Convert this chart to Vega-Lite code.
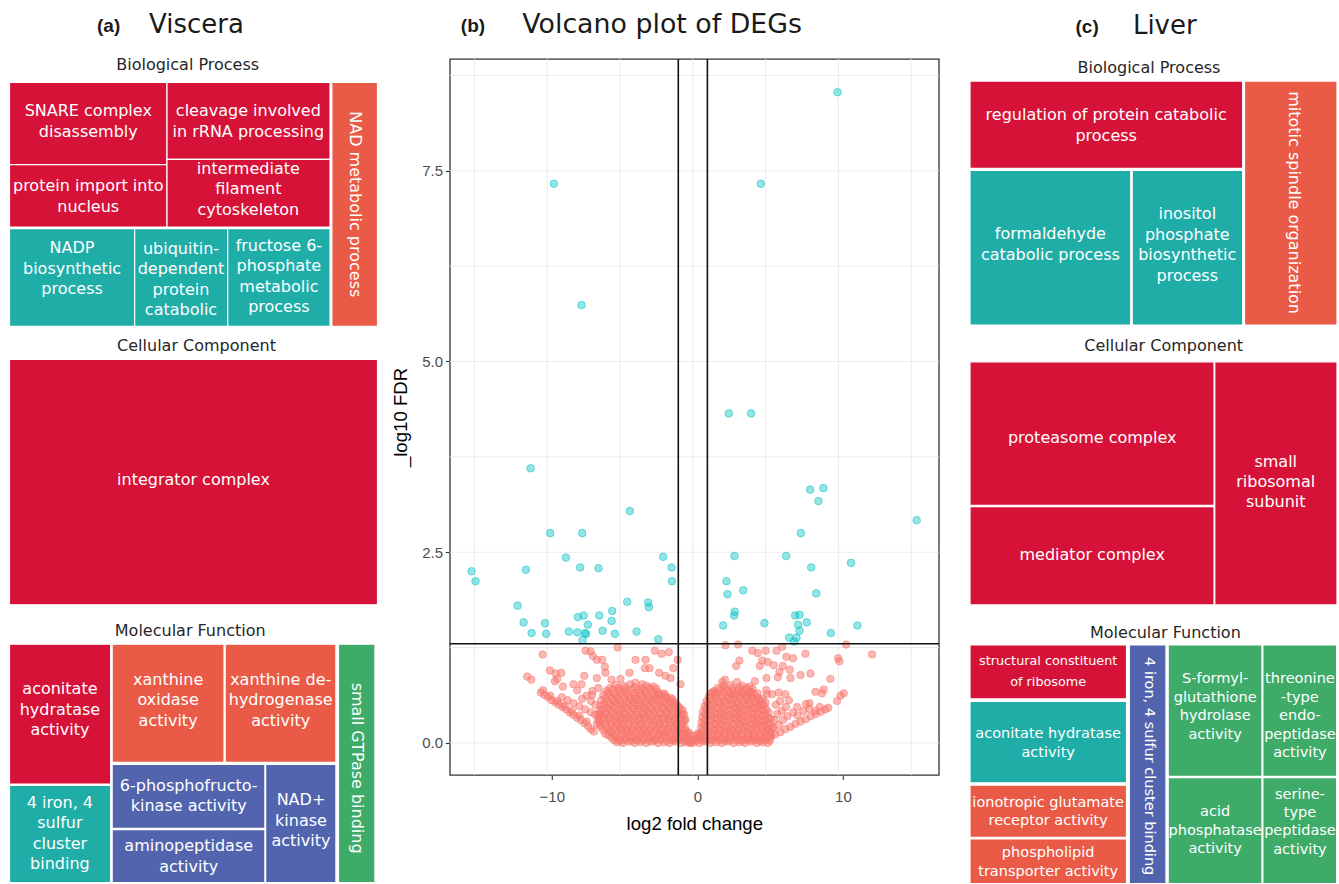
{
"$schema": "https://vega.github.io/schema/vega-lite/v6.json",
"background": "white",
"padding": {"left": 8.5, "top": 11, "right": 0, "bottom": 0},
"spacing": 11.3,
"resolve": {"scale": {"x": "independent", "y": "independent", "color": "independent"}},
"datasets": {
"blue": [
{"x":-9.55,"y":7.33},{"x":-7.65,"y":5.74},{"x":-11.15,"y":3.6},{"x":-4.33,"y":3.04},{"x":-9.8,"y":2.75},{"x":-7.6,"y":2.75},{"x":-8.72,"y":2.43},{"x":-2.04,"y":2.44},{"x":-15.2,"y":2.25},{"x":-11.47,"y":2.27},{"x":-7.74,"y":2.3},{"x":-6.48,"y":2.29},{"x":-1.46,"y":2.3},{"x":-14.93,"y":2.12},{"x":-1.44,"y":2.12},{"x":-12.04,"y":1.8},{"x":-4.51,"y":1.85},{"x":-3.07,"y":1.84},{"x":-3.02,"y":1.78},{"x":-5.54,"y":1.73},{"x":-6.43,"y":1.67},{"x":-7.5,"y":1.67},{"x":-7.9,"y":1.65},{"x":-5.58,"y":1.6},{"x":-11.63,"y":1.58},{"x":-10.16,"y":1.57},{"x":-7.21,"y":1.55},{"x":-11.08,"y":1.44},{"x":-10.08,"y":1.43},{"x":-8.52,"y":1.46},{"x":-7.94,"y":1.45},{"x":-7.42,"y":1.44},{"x":-7.33,"y":1.43},{"x":-6.2,"y":1.47},{"x":-5.36,"y":1.43},{"x":-3.87,"y":1.46},{"x":-7.58,"y":1.35},{"x":-2.38,"y":1.36},
{"x":9.94,"y":8.53},{"x":4.67,"y":7.33},{"x":2.47,"y":4.32},{"x":4.0,"y":4.32},{"x":8.06,"y":3.32},{"x":8.97,"y":3.34},{"x":8.63,"y":3.17},{"x":15.38,"y":2.92},{"x":7.42,"y":2.75},{"x":2.86,"y":2.45},{"x":6.41,"y":2.45},{"x":10.87,"y":2.36},{"x":8.13,"y":2.3},{"x":2.31,"y":2.12},{"x":2.38,"y":1.95},{"x":3.46,"y":2.0},{"x":8.48,"y":1.96},{"x":2.88,"y":1.72},{"x":2.84,"y":1.67},{"x":7.03,"y":1.67},{"x":7.33,"y":1.68},{"x":7.23,"y":1.55},{"x":7.83,"y":1.58},{"x":2.08,"y":1.54},{"x":4.92,"y":1.57},{"x":11.31,"y":1.54},{"x":7.33,"y":1.47},{"x":9.48,"y":1.44},{"x":6.62,"y":1.38},{"x":7.12,"y":1.38},{"x":6.96,"y":1.33}
],
"red": [
{"x":-5.2,"y":0.01},{"x":-4.8,"y":0.0},{"x":-4.4,"y":0.02},{"x":-4.0,"y":0.0},{"x":-3.6,"y":0.01},{"x":-3.2,"y":0.0},{"x":-2.8,"y":0.02},{"x":-2.4,"y":0.0},{"x":-2.0,"y":0.01},{"x":-1.6,"y":0.0},{"x":-1.2,"y":0.02},{"x":-0.8,"y":0.0},{"x":-0.45,"y":0.01},{"x":-0.2,"y":0.0},
{"x":-5.6,"y":0.07},{"x":-5.15,"y":0.05},{"x":-4.7,"y":0.06},{"x":-4.3,"y":0.07},{"x":-3.9,"y":0.05},{"x":-3.45,"y":0.06},{"x":-3.0,"y":0.07},{"x":-2.6,"y":0.05},{"x":-2.2,"y":0.06},{"x":-1.8,"y":0.07},{"x":-1.4,"y":0.05},{"x":-1.0,"y":0.06},{"x":-0.6,"y":0.07},{"x":-0.35,"y":0.05},
{"x":-6.0,"y":0.12},{"x":-5.6,"y":0.14},{"x":-5.2,"y":0.13},{"x":-4.8,"y":0.12},{"x":-4.35,"y":0.14},{"x":-3.9,"y":0.13},{"x":-3.5,"y":0.12},{"x":-3.1,"y":0.14},{"x":-2.7,"y":0.13},{"x":-2.3,"y":0.12},{"x":-1.9,"y":0.14},{"x":-1.5,"y":0.13},{"x":-1.1,"y":0.12},{"x":-0.7,"y":0.14},{"x":-0.4,"y":0.13},
{"x":-6.3,"y":0.21},{"x":-5.85,"y":0.19},{"x":-5.4,"y":0.2},{"x":-5.0,"y":0.21},{"x":-4.6,"y":0.19},{"x":-4.2,"y":0.2},{"x":-3.8,"y":0.21},{"x":-3.35,"y":0.19},{"x":-2.9,"y":0.2},{"x":-2.5,"y":0.21},{"x":-2.1,"y":0.19},{"x":-1.7,"y":0.2},{"x":-1.3,"y":0.21},{"x":-0.9,"y":0.19},{"x":-0.55,"y":0.2},
{"x":-6.45,"y":0.28},{"x":-6.0,"y":0.26},{"x":-5.6,"y":0.27},{"x":-5.2,"y":0.28},{"x":-4.8,"y":0.26},{"x":-4.4,"y":0.27},{"x":-3.95,"y":0.28},{"x":-3.55,"y":0.26},{"x":-3.1,"y":0.27},{"x":-2.7,"y":0.28},{"x":-2.3,"y":0.26},{"x":-1.9,"y":0.27},{"x":-1.5,"y":0.28},{"x":-1.1,"y":0.26},{"x":-0.7,"y":0.27},{"x":-0.5,"y":0.3},
{"x":-6.5,"y":0.35},{"x":-6.1,"y":0.33},{"x":-5.7,"y":0.34},{"x":-5.25,"y":0.35},{"x":-4.85,"y":0.33},{"x":-4.45,"y":0.34},{"x":-4.0,"y":0.35},{"x":-3.6,"y":0.33},{"x":-3.2,"y":0.34},{"x":-2.8,"y":0.35},{"x":-2.4,"y":0.33},{"x":-2.0,"y":0.34},{"x":-1.6,"y":0.35},{"x":-1.2,"y":0.33},{"x":-0.8,"y":0.34},{"x":-0.6,"y":0.37},
{"x":-6.4,"y":0.42},{"x":-6.0,"y":0.4},{"x":-5.55,"y":0.41},{"x":-5.1,"y":0.42},{"x":-4.7,"y":0.4},{"x":-4.3,"y":0.41},{"x":-3.85,"y":0.42},{"x":-3.45,"y":0.4},{"x":-3.05,"y":0.41},{"x":-2.65,"y":0.42},{"x":-2.2,"y":0.4},{"x":-1.8,"y":0.41},{"x":-1.4,"y":0.42},{"x":-1.0,"y":0.4},{"x":-0.7,"y":0.43},
{"x":-6.35,"y":0.49},{"x":-5.9,"y":0.47},{"x":-5.5,"y":0.48},{"x":-5.05,"y":0.49},{"x":-4.65,"y":0.47},{"x":-4.2,"y":0.48},{"x":-3.8,"y":0.49},{"x":-3.35,"y":0.47},{"x":-2.95,"y":0.48},{"x":-2.5,"y":0.49},{"x":-2.1,"y":0.47},{"x":-1.7,"y":0.48},{"x":-1.3,"y":0.49},{"x":-0.95,"y":0.47},
{"x":-6.3,"y":0.56},{"x":-5.85,"y":0.54},{"x":-5.4,"y":0.55},{"x":-5.0,"y":0.56},{"x":-4.55,"y":0.54},{"x":-4.1,"y":0.55},{"x":-3.7,"y":0.56},{"x":-3.3,"y":0.54},{"x":-2.85,"y":0.55},{"x":-2.45,"y":0.56},{"x":-2.05,"y":0.54},{"x":-1.6,"y":0.55},{"x":-1.25,"y":0.53},
{"x":-6.15,"y":0.63},{"x":-5.7,"y":0.61},{"x":-5.3,"y":0.62},{"x":-4.85,"y":0.63},{"x":-4.4,"y":0.61},{"x":-4.0,"y":0.62},{"x":-3.55,"y":0.63},{"x":-3.1,"y":0.61},{"x":-2.7,"y":0.62},{"x":-2.3,"y":0.63},{"x":-1.85,"y":0.6},{"x":-1.5,"y":0.59},
{"x":-5.95,"y":0.68},{"x":-5.5,"y":0.7},{"x":-5.05,"y":0.69},{"x":-4.6,"y":0.68},{"x":-4.2,"y":0.7},{"x":-3.75,"y":0.69},{"x":-3.3,"y":0.68},{"x":-2.9,"y":0.7},{"x":-2.45,"y":0.67},{"x":-2.0,"y":0.65},
{"x":-5.3,"y":0.76},{"x":-4.75,"y":0.75},{"x":-4.3,"y":0.77},{"x":-3.2,"y":0.75},{"x":-2.7,"y":0.74},
{"x":-5.4,"y":0.035},{"x":-5.0,"y":0.03},{"x":-4.6,"y":0.04},{"x":-4.2,"y":0.03},{"x":-3.8,"y":0.035},{"x":-3.4,"y":0.04},{"x":-3.0,"y":0.03},{"x":-2.6,"y":0.035},{"x":-2.2,"y":0.04},{"x":-1.8,"y":0.03},{"x":-1.4,"y":0.035},{"x":-1.0,"y":0.04},{"x":-0.6,"y":0.03},{"x":-0.3,"y":0.02},
{"x":-5.8,"y":0.1},{"x":-5.4,"y":0.09},{"x":-4.95,"y":0.1},{"x":-4.5,"y":0.11},{"x":-4.1,"y":0.09},{"x":-3.7,"y":0.1},{"x":-3.25,"y":0.11},{"x":-2.85,"y":0.09},{"x":-2.4,"y":0.1},{"x":-2.0,"y":0.11},{"x":-1.6,"y":0.09},{"x":-1.2,"y":0.1},{"x":-0.8,"y":0.11},{"x":-0.5,"y":0.09},
{"x":-6.15,"y":0.165},{"x":-5.75,"y":0.16},{"x":-5.3,"y":0.17},{"x":-4.9,"y":0.165},{"x":-4.5,"y":0.16},{"x":-4.1,"y":0.17},{"x":-3.7,"y":0.165},{"x":-3.3,"y":0.16},{"x":-2.9,"y":0.17},{"x":-2.5,"y":0.165},{"x":-2.1,"y":0.16},{"x":-1.7,"y":0.17},{"x":-1.3,"y":0.165},{"x":-0.9,"y":0.16},{"x":-0.55,"y":0.17},
{"x":-6.4,"y":0.235},{"x":-6.0,"y":0.23},{"x":-5.6,"y":0.24},{"x":-5.2,"y":0.235},{"x":-4.8,"y":0.23},{"x":-4.4,"y":0.24},{"x":-4.0,"y":0.235},{"x":-3.6,"y":0.23},{"x":-3.2,"y":0.24},{"x":-2.75,"y":0.235},{"x":-2.35,"y":0.23},{"x":-1.95,"y":0.24},{"x":-1.55,"y":0.235},{"x":-1.15,"y":0.23},{"x":-0.75,"y":0.24},
{"x":-6.5,"y":0.305},{"x":-6.2,"y":0.3},{"x":-5.8,"y":0.31},{"x":-5.4,"y":0.305},{"x":-5.0,"y":0.3},{"x":-4.6,"y":0.31},{"x":-4.2,"y":0.305},{"x":-3.75,"y":0.3},{"x":-3.35,"y":0.31},{"x":-2.9,"y":0.305},{"x":-2.5,"y":0.3},{"x":-2.1,"y":0.31},{"x":-1.7,"y":0.305},{"x":-1.3,"y":0.3},{"x":-0.9,"y":0.31},{"x":-0.6,"y":0.3},
{"x":-6.45,"y":0.38},{"x":-6.3,"y":0.37},{"x":-5.9,"y":0.375},{"x":-5.45,"y":0.38},{"x":-5.05,"y":0.37},{"x":-4.65,"y":0.375},{"x":-4.2,"y":0.38},{"x":-3.8,"y":0.37},{"x":-3.4,"y":0.375},{"x":-3.0,"y":0.38},{"x":-2.6,"y":0.37},{"x":-2.2,"y":0.375},{"x":-1.8,"y":0.38},{"x":-1.4,"y":0.37},{"x":-1.0,"y":0.375},{"x":-0.7,"y":0.38},
{"x":-6.2,"y":0.445},{"x":-5.75,"y":0.44},{"x":-5.35,"y":0.45},{"x":-4.9,"y":0.445},{"x":-4.5,"y":0.44},{"x":-4.05,"y":0.45},{"x":-3.65,"y":0.445},{"x":-3.25,"y":0.44},{"x":-2.85,"y":0.45},{"x":-2.45,"y":0.445},{"x":-2.0,"y":0.44},{"x":-1.6,"y":0.45},{"x":-1.2,"y":0.445},{"x":-0.85,"y":0.44},
{"x":-6.1,"y":0.515},{"x":-5.7,"y":0.51},{"x":-5.25,"y":0.52},{"x":-4.85,"y":0.515},{"x":-4.4,"y":0.51},{"x":-4.0,"y":0.52},{"x":-3.6,"y":0.515},{"x":-3.15,"y":0.51},{"x":-2.75,"y":0.52},{"x":-2.3,"y":0.515},{"x":-1.9,"y":0.51},{"x":-1.5,"y":0.52},{"x":-1.1,"y":0.5},
{"x":-6.0,"y":0.585},{"x":-5.55,"y":0.58},{"x":-5.15,"y":0.59},{"x":-4.7,"y":0.585},{"x":-4.3,"y":0.58},{"x":-3.9,"y":0.59},{"x":-3.45,"y":0.585},{"x":-3.05,"y":0.58},{"x":-2.6,"y":0.59},{"x":-2.2,"y":0.585},{"x":-1.8,"y":0.58},{"x":-1.4,"y":0.57},
{"x":-5.8,"y":0.655},{"x":-5.4,"y":0.65},{"x":-4.95,"y":0.66},{"x":-4.5,"y":0.655},{"x":-4.05,"y":0.65},{"x":-3.6,"y":0.66},{"x":-3.2,"y":0.655},{"x":-2.75,"y":0.65},{"x":-2.3,"y":0.645},{"x":-1.9,"y":0.63},
{"x":-5.7,"y":0.72},{"x":-5.1,"y":0.725},{"x":-4.6,"y":0.72},{"x":-4.0,"y":0.73},{"x":-3.5,"y":0.72},{"x":-3.0,"y":0.725},{"x":-2.5,"y":0.71},
{"x":-0.1,"y":0.0},{"x":0.1,"y":0.01},{"x":0.25,"y":0.04},{"x":-0.25,"y":0.05},{"x":0.0,"y":0.04},{"x":0.15,"y":0.09},{"x":-0.15,"y":0.1},{"x":0.32,"y":0.12},{"x":-0.3,"y":0.14},
{"x":0.45,"y":0.0},{"x":0.8,"y":0.02},{"x":1.2,"y":0.0},{"x":1.6,"y":0.01},{"x":2.0,"y":0.0},{"x":2.4,"y":0.02},{"x":2.8,"y":0.0},{"x":3.2,"y":0.01},{"x":3.6,"y":0.0},{"x":4.0,"y":0.02},{"x":4.4,"y":0.0},{"x":4.8,"y":0.01},{"x":5.15,"y":0.0},
{"x":0.4,"y":0.07},{"x":0.8,"y":0.06},{"x":1.2,"y":0.05},{"x":1.6,"y":0.07},{"x":2.0,"y":0.06},{"x":2.4,"y":0.05},{"x":2.8,"y":0.07},{"x":3.2,"y":0.06},{"x":3.6,"y":0.05},{"x":4.0,"y":0.07},{"x":4.4,"y":0.06},{"x":4.8,"y":0.05},{"x":5.2,"y":0.07},
{"x":0.5,"y":0.13},{"x":0.9,"y":0.12},{"x":1.3,"y":0.14},{"x":1.75,"y":0.13},{"x":2.15,"y":0.12},{"x":2.55,"y":0.14},{"x":2.95,"y":0.13},{"x":3.35,"y":0.12},{"x":3.8,"y":0.14},{"x":4.2,"y":0.13},{"x":4.6,"y":0.12},{"x":5.0,"y":0.14},{"x":5.35,"y":0.13},
{"x":0.55,"y":0.2},{"x":0.95,"y":0.21},{"x":1.4,"y":0.19},{"x":1.8,"y":0.2},{"x":2.2,"y":0.21},{"x":2.6,"y":0.19},{"x":3.05,"y":0.2},{"x":3.45,"y":0.21},{"x":3.85,"y":0.19},{"x":4.3,"y":0.2},{"x":4.7,"y":0.21},{"x":5.1,"y":0.19},{"x":5.5,"y":0.2},
{"x":0.6,"y":0.27},{"x":1.0,"y":0.28},{"x":1.45,"y":0.26},{"x":1.85,"y":0.27},{"x":2.25,"y":0.28},{"x":2.7,"y":0.26},{"x":3.1,"y":0.27},{"x":3.5,"y":0.28},{"x":3.95,"y":0.26},{"x":4.35,"y":0.27},{"x":4.75,"y":0.28},{"x":5.15,"y":0.26},
{"x":0.65,"y":0.34},{"x":1.05,"y":0.35},{"x":1.5,"y":0.33},{"x":1.9,"y":0.34},{"x":2.3,"y":0.35},{"x":2.75,"y":0.33},{"x":3.15,"y":0.34},{"x":3.55,"y":0.35},{"x":4.0,"y":0.33},{"x":4.4,"y":0.34},{"x":4.8,"y":0.35},{"x":5.2,"y":0.33},
{"x":0.7,"y":0.41},{"x":1.1,"y":0.42},{"x":1.5,"y":0.4},{"x":1.95,"y":0.41},{"x":2.35,"y":0.42},{"x":2.8,"y":0.4},{"x":3.2,"y":0.41},{"x":3.6,"y":0.42},{"x":4.05,"y":0.4},{"x":4.45,"y":0.41},{"x":4.85,"y":0.42},{"x":5.2,"y":0.4},
{"x":0.8,"y":0.48},{"x":1.2,"y":0.49},{"x":1.6,"y":0.47},{"x":2.0,"y":0.48},{"x":2.45,"y":0.49},{"x":2.85,"y":0.47},{"x":3.25,"y":0.48},{"x":3.7,"y":0.49},{"x":4.1,"y":0.47},{"x":4.5,"y":0.48},{"x":4.9,"y":0.49},
{"x":0.95,"y":0.55},{"x":1.35,"y":0.56},{"x":1.75,"y":0.54},{"x":2.15,"y":0.55},{"x":2.6,"y":0.56},{"x":3.0,"y":0.54},{"x":3.4,"y":0.55},{"x":3.85,"y":0.56},{"x":4.25,"y":0.54},{"x":4.65,"y":0.55},{"x":5.0,"y":0.53},
{"x":1.1,"y":0.61},{"x":1.5,"y":0.63},{"x":1.95,"y":0.62},{"x":2.35,"y":0.61},{"x":2.75,"y":0.63},{"x":3.2,"y":0.62},{"x":3.6,"y":0.61},{"x":4.0,"y":0.63},{"x":4.4,"y":0.6},{"x":4.8,"y":0.58},
{"x":1.45,"y":0.68},{"x":1.9,"y":0.7},{"x":2.3,"y":0.69},{"x":2.75,"y":0.68},{"x":3.15,"y":0.7},{"x":3.6,"y":0.69},{"x":4.0,"y":0.67},{"x":4.45,"y":0.65},
{"x":2.1,"y":0.75},{"x":2.6,"y":0.76},{"x":3.4,"y":0.75},{"x":3.9,"y":0.74},
{"x":0.6,"y":0.035},{"x":1.0,"y":0.03},{"x":1.4,"y":0.04},{"x":1.8,"y":0.035},{"x":2.2,"y":0.03},{"x":2.6,"y":0.04},{"x":3.0,"y":0.035},{"x":3.4,"y":0.03},{"x":3.8,"y":0.04},{"x":4.2,"y":0.035},{"x":4.6,"y":0.03},{"x":5.0,"y":0.04},{"x":5.3,"y":0.03},
{"x":0.45,"y":0.1},{"x":0.6,"y":0.11},{"x":1.0,"y":0.1},{"x":1.4,"y":0.09},{"x":1.8,"y":0.1},{"x":2.2,"y":0.11},{"x":2.6,"y":0.09},{"x":3.0,"y":0.1},{"x":3.4,"y":0.11},{"x":3.8,"y":0.09},{"x":4.2,"y":0.1},{"x":4.6,"y":0.11},{"x":5.0,"y":0.09},{"x":5.4,"y":0.1},
{"x":0.7,"y":0.165},{"x":1.1,"y":0.16},{"x":1.5,"y":0.17},{"x":1.95,"y":0.165},{"x":2.35,"y":0.16},{"x":2.75,"y":0.17},{"x":3.15,"y":0.165},{"x":3.55,"y":0.16},{"x":4.0,"y":0.17},{"x":4.4,"y":0.165},{"x":4.8,"y":0.16},{"x":5.2,"y":0.17},
{"x":0.75,"y":0.235},{"x":1.15,"y":0.23},{"x":1.6,"y":0.24},{"x":2.0,"y":0.235},{"x":2.4,"y":0.23},{"x":2.85,"y":0.24},{"x":3.25,"y":0.235},{"x":3.65,"y":0.23},{"x":4.1,"y":0.24},{"x":4.5,"y":0.235},{"x":4.9,"y":0.23},{"x":5.3,"y":0.24},
{"x":0.8,"y":0.305},{"x":1.25,"y":0.3},{"x":1.65,"y":0.31},{"x":2.05,"y":0.305},{"x":2.5,"y":0.3},{"x":2.9,"y":0.31},{"x":3.3,"y":0.305},{"x":3.75,"y":0.3},{"x":4.15,"y":0.31},{"x":4.55,"y":0.305},{"x":4.95,"y":0.3},{"x":5.35,"y":0.31},
{"x":0.85,"y":0.375},{"x":1.3,"y":0.37},{"x":1.7,"y":0.38},{"x":2.1,"y":0.375},{"x":2.55,"y":0.37},{"x":2.95,"y":0.38},{"x":3.35,"y":0.375},{"x":3.8,"y":0.37},{"x":4.2,"y":0.38},{"x":4.6,"y":0.375},{"x":5.0,"y":0.37},
{"x":0.9,"y":0.445},{"x":1.3,"y":0.44},{"x":1.75,"y":0.45},{"x":2.15,"y":0.445},{"x":2.6,"y":0.44},{"x":3.0,"y":0.45},{"x":3.4,"y":0.445},{"x":3.85,"y":0.44},{"x":4.25,"y":0.45},{"x":4.7,"y":0.445},{"x":5.05,"y":0.44},
{"x":1.0,"y":0.515},{"x":1.4,"y":0.51},{"x":1.8,"y":0.52},{"x":2.25,"y":0.515},{"x":2.65,"y":0.51},{"x":3.05,"y":0.52},{"x":3.5,"y":0.515},{"x":3.9,"y":0.51},{"x":4.3,"y":0.52},{"x":4.75,"y":0.505},
{"x":1.2,"y":0.585},{"x":1.6,"y":0.58},{"x":2.0,"y":0.59},{"x":2.45,"y":0.585},{"x":2.85,"y":0.58},{"x":3.25,"y":0.59},{"x":3.7,"y":0.585},{"x":4.1,"y":0.58},{"x":4.55,"y":0.57},
{"x":1.3,"y":0.655},{"x":1.7,"y":0.65},{"x":2.1,"y":0.66},{"x":2.5,"y":0.655},{"x":2.95,"y":0.65},{"x":3.35,"y":0.66},{"x":3.8,"y":0.65},{"x":4.2,"y":0.64},
{"x":1.7,"y":0.72},{"x":2.2,"y":0.725},{"x":2.7,"y":0.72},{"x":3.2,"y":0.73},{"x":3.7,"y":0.72},{"x":4.1,"y":0.71},
{"x":5.35,"y":0.08},{"x":5.65,"y":0.11},{"x":6.0,"y":0.14},{"x":6.35,"y":0.18},{"x":6.7,"y":0.21},{"x":7.05,"y":0.25},{"x":7.4,"y":0.28},{"x":7.75,"y":0.31},{"x":8.1,"y":0.35},{"x":8.45,"y":0.38},{"x":8.8,"y":0.41},{"x":9.1,"y":0.44},{"x":9.3,"y":0.46},
{"x":5.6,"y":0.3},{"x":5.9,"y":0.24},{"x":5.8,"y":0.38},{"x":6.2,"y":0.3},{"x":6.1,"y":0.42},{"x":6.5,"y":0.35},{"x":6.4,"y":0.47},{"x":6.9,"y":0.4},{"x":7.2,"y":0.36},{"x":7.6,"y":0.42},{"x":8.0,"y":0.45},{"x":5.7,"y":0.5},{"x":5.5,"y":0.2},{"x":6.0,"y":0.55},{"x":6.6,"y":0.56},
{"x":-10.45,"y":0.66},{"x":-10.2,"y":0.63},{"x":-9.95,"y":0.6},{"x":-9.7,"y":0.56},{"x":-9.45,"y":0.53},{"x":-9.2,"y":0.5},{"x":-8.95,"y":0.47},{"x":-8.7,"y":0.44},{"x":-8.45,"y":0.4},{"x":-8.2,"y":0.37},{"x":-7.95,"y":0.33},{"x":-7.7,"y":0.3},{"x":-7.45,"y":0.26},{"x":-7.2,"y":0.22},{"x":-7.0,"y":0.18},{"x":-6.8,"y":0.15},
{"x":-10.3,"y":0.69},{"x":-9.8,"y":0.62},{"x":-9.3,"y":0.55},{"x":-8.8,"y":0.49},{"x":-8.3,"y":0.42},{"x":-7.8,"y":0.36},{"x":-7.3,"y":0.28},
{"x":-9.0,"y":0.6},{"x":-8.6,"y":0.56},{"x":-8.2,"y":0.52},{"x":-7.8,"y":0.48},{"x":-7.4,"y":0.44},{"x":-7.0,"y":0.4},{"x":-6.7,"y":0.37},
{"x":-7.6,"y":0.58},{"x":-7.0,"y":0.55},{"x":-6.9,"y":0.68},{"x":-7.3,"y":0.62},{"x":-6.7,"y":0.5},{"x":-6.6,"y":0.25},
{"x":-10.32,"y":1.16},{"x":-7.37,"y":1.21},{"x":-7.03,"y":1.2},{"x":-6.87,"y":1.14},{"x":-6.6,"y":1.09},{"x":-6.23,"y":1.09},{"x":-6.05,"y":1.0},{"x":-5.17,"y":1.25},{"x":-3.94,"y":1.09},{"x":-3.25,"y":1.09},{"x":-2.61,"y":1.21},{"x":-2.15,"y":1.17},{"x":-1.65,"y":1.19},{"x":-1.05,"y":1.09},{"x":-1.35,"y":0.98},{"x":-2.98,"y":0.98},{"x":-3.3,"y":0.98},{"x":-9.82,"y":0.95},{"x":-9.43,"y":0.91},{"x":-9.04,"y":0.92},{"x":-9.32,"y":0.84},{"x":-9.48,"y":0.81},{"x":-11.38,"y":0.87},{"x":-11.1,"y":0.83},{"x":-7.46,"y":0.88},{"x":-8.2,"y":0.77},{"x":-7.65,"y":0.77},{"x":-6.6,"y":0.85},{"x":-6.0,"y":0.92},{"x":-5.59,"y":0.83},{"x":-4.97,"y":0.84},{"x":-4.35,"y":0.92},{"x":-3.94,"y":0.79},{"x":-3.48,"y":0.77},{"x":-2.31,"y":0.92},{"x":-1.88,"y":0.88},{"x":-1.53,"y":0.85},{"x":-0.85,"y":0.77},{"x":-8.93,"y":0.74},{"x":-7.95,"y":0.69},{"x":-6.92,"y":0.63},{"x":-6.5,"y":0.72},
{"x":2.24,"y":1.28},{"x":3.11,"y":1.29},{"x":4.08,"y":1.21},{"x":4.46,"y":1.18},{"x":5.01,"y":1.21},{"x":5.75,"y":1.21},{"x":6.14,"y":1.26},{"x":2.98,"y":1.01},{"x":3.2,"y":1.08},{"x":4.6,"y":1.01},{"x":4.76,"y":1.08},{"x":5.15,"y":1.06},{"x":5.56,"y":1.02},{"x":6.18,"y":1.01},{"x":6.43,"y":1.13},{"x":6.89,"y":1.11},{"x":7.74,"y":1.17},{"x":5.95,"y":0.93},{"x":6.66,"y":0.96},{"x":7.4,"y":0.89},{"x":8.08,"y":0.91},{"x":5.06,"y":0.85},{"x":5.84,"y":0.86},{"x":6.71,"y":0.85},{"x":2.2,"y":0.83},{"x":2.02,"y":0.8},{"x":3.04,"y":0.8},{"x":4.26,"y":0.81},{"x":9.45,"y":0.84},{"x":9.98,"y":1.11},{"x":10.07,"y":1.07},{"x":10.53,"y":1.29},{"x":12.32,"y":1.16},{"x":8.42,"y":0.67},{"x":8.88,"y":0.65},{"x":8.99,"y":0.7},{"x":10.14,"y":0.62},{"x":10.37,"y":0.65},{"x":9.91,"y":0.55},{"x":7.78,"y":0.51},{"x":8.01,"y":0.52},{"x":7.17,"y":0.47},{"x":8.42,"y":0.42},{"x":8.72,"y":0.47},{"x":1.33,"y":0.66},{"x":1.56,"y":0.66},{"x":2.7,"y":0.64},{"x":3.39,"y":0.64},{"x":3.96,"y":0.66},{"x":5.1,"y":0.64},{"x":5.9,"y":0.66},{"x":6.36,"y":0.64},{"x":5.04,"y":0.69},{"x":5.45,"y":0.64}
],
"vbp": [
{"label":"SNARE complex\ndisassembly","cl":"c1","x0":0,"x1":42.8,"y0":0,"y1":33.7,"lx":21.4,"ly":11.9},
{"label":"protein import into\nnucleus","cl":"c1","x0":0,"x1":42.8,"y0":33.7,"y1":59.3,"lx":21.4,"ly":42.6},
{"label":"cleavage involved\nin rRNA processing","cl":"c1","x0":42.8,"x1":87.1,"y0":0,"y1":31.6,"lx":64.9,"ly":11.9},
{"label":"intermediate\nfilament\ncytoskeleton","cl":"c1","x0":42.8,"x1":87.1,"y0":31.6,"y1":59.3,"lx":64.9,"ly":35.5},
{"label":"NADP\nbiosynthetic\nprocess","cl":"c2","x0":0,"x1":34.0,"y0":60.0,"y1":100,"lx":17.0,"ly":68.0},
{"label":"ubiquitin-\ndependent\nprotein\ncatabolic","cl":"c2","x0":34.0,"x1":59.3,"y0":60.0,"y1":100,"lx":46.6,"ly":68.3},
{"label":"fructose 6-\nphosphate\nmetabolic\nprocess","cl":"c2","x0":59.3,"x1":87.1,"y0":60.0,"y1":100,"lx":73.2,"ly":66.9},
{"label":"NAD metabolic process","cl":"c3","x0":87.6,"x1":100,"y0":0,"y1":100,"lx":93.8,"ly":50.0}
],
"vcc": [
{"label":"integrator complex","cl":"c1","x0":0,"x1":100,"y0":0,"y1":100,"lx":50,"ly":49.0}
],
"vmf": [
{"label":"aconitate\nhydratase\nactivity","cl":"c1","x0":0,"x1":27.5,"y0":0,"y1":58.7,"lx":13.7,"ly":19.0},
{"label":"4 iron, 4\nsulfur\ncluster\nbinding","cl":"c2","x0":0,"x1":27.5,"y0":59.3,"y1":100,"lx":13.7,"ly":66.7},
{"label":"xanthine\noxidase\nactivity","cl":"c3","x0":27.9,"x1":58.3,"y0":0,"y1":49.6,"lx":43.1,"ly":15.1},
{"label":"xanthine de-\nhydrogenase\nactivity","cl":"c3","x0":58.6,"x1":88.7,"y0":0,"y1":49.6,"lx":73.7,"ly":15.1},
{"label":"6-phosphofructo-\nkinase activity","cl":"c4","x0":27.9,"x1":69.4,"y0":50.4,"y1":77.3,"lx":48.7,"ly":59.5},
{"label":"aminopeptidase\nactivity","cl":"c4","x0":27.9,"x1":69.4,"y0":77.8,"y1":100,"lx":48.7,"ly":84.8},
{"label":"NAD+\nkinase\nactivity","cl":"c4","x0":69.6,"x1":88.7,"y0":50.4,"y1":100,"lx":79.2,"ly":65.5},
{"label":"small GTPase binding","cl":"c5","x0":89.4,"x1":99.3,"y0":0,"y1":100,"lx":94.4,"ly":52.0}
],
"lbp": [
{"label":"regulation of protein catabolic\nprocess","cl":"c1","x0":0,"x1":74.3,"y0":0,"y1":35.8,"lx":37.1,"ly":13.9},
{"label":"formaldehyde\ncatabolic process","cl":"c2","x0":0,"x1":43.8,"y0":36.6,"y1":100,"lx":21.9,"ly":62.8},
{"label":"inositol\nphosphate\nbiosynthetic\nprocess","cl":"c2","x0":44.2,"x1":74.3,"y0":36.6,"y1":100,"lx":59.2,"ly":54.4},
{"label":"mitotic spindle organization","cl":"c3","x0":74.8,"x1":100,"y0":0,"y1":100,"lx":88.4,"ly":49.8}
],
"lcc": [
{"label":"proteasome complex","cl":"c1","x0":0,"x1":66.5,"y0":0,"y1":59.0,"lx":33.3,"ly":31.3},
{"label":"mediator complex","cl":"c1","x0":0,"x1":66.5,"y0":59.6,"y1":100,"lx":33.3,"ly":79.4},
{"label":"small\nribosomal\nsubunit","cl":"c1","x0":66.7,"x1":100,"y0":0,"y1":100,"lx":83.3,"ly":41.1}
],
"lmf": [
{"label":"structural constituent\nof ribosome","cl":"c1","x0":0,"x1":42.65,"y0":0,"y1":22.6,"lx":21.3,"ly":6.9},
{"label":"aconitate hydratase\nactivity","cl":"c2","x0":0,"x1":42.65,"y0":23.6,"y1":57.8,"lx":21.3,"ly":37.4},
{"label":"ionotropic glutamate\nreceptor activity","cl":"c3","x0":0,"x1":42.65,"y0":58.8,"y1":80.6,"lx":21.3,"ly":66.2},
{"label":"phospholipid\ntransporter activity","cl":"c3","x0":0,"x1":42.65,"y0":81.3,"y1":100,"lx":21.3,"ly":87.3},
{"label":"4 iron, 4 sulfur cluster binding","cl":"c4","x0":43.4,"x1":53.4,"y0":0,"y1":100,"lx":48.8,"ly":50.8},
{"label":"S-formyl-\nglutathione\nhydrolase\nactivity","cl":"c5","x0":54.0,"x1":79.55,"y0":0,"y1":55.1,"lx":66.8,"ly":14.4},
{"label":"threonine\n-type\nendo-\npeptidase\nactivity","cl":"c5","x0":79.8,"x1":99.9,"y0":0,"y1":55.1,"lx":89.9,"ly":14.4},
{"label":"acid\nphosphatase\nactivity","cl":"c5","x0":54.0,"x1":79.55,"y0":55.6,"y1":100,"lx":66.8,"ly":70.1},
{"label":"serine-\ntype\npeptidase\nactivity","cl":"c5","x0":79.8,"x1":99.9,"y0":55.6,"y1":100,"lx":89.9,"ly":62.7}
]
},
"hconcat": [
{
 "title": {"text": "(a)", "font": "Liberation Sans", "fontSize": 19, "fontWeight": "bold", "color": "#1A1A1A", "anchor": "start", "frame": "group", "dx": 87.5, "dy": 24, "offset": 0},
 "vconcat": [
 {
  "title": {"text": "Viscera", "font": "DejaVu Sans", "fontSize": 26, "fontWeight": "normal", "color": "#1A1A1A", "anchor": "start", "frame": "group", "dx": 139.5, "offset": 19.7},
  "spacing": -2.7,
  "resolve": {"scale": {"x": "independent", "y": "independent", "color": "independent"}},
  "vconcat": [
  {"width": 368, "height": 1, "data": {"values": []}, "mark": {"type": "point"}, "encoding": {}},
  {
  "spacing": 16.9,
  "resolve": {"scale": {"x": "independent", "y": "independent", "color": "independent"}},
  "vconcat": [
  {
   "spacing": 10.2,
   "resolve": {"scale": {"x": "independent", "y": "independent", "color": "independent"}},
   "vconcat": [
   {
    "width": 368, "height": 244,
    "title": {"text": "Biological Process", "font": "DejaVu Sans", "fontSize": 16, "fontWeight": "normal", "color": "#262626", "anchor": "middle", "frame": "group", "dx": -5.8, "offset": 8.4},
    "data": {"name": "vbp"},
    "layer": [
     {"mark": {"type": "rect", "stroke": "white", "strokeWidth": 1.2},
      "encoding": {
       "x": {"field": "x0", "type": "quantitative", "scale": {"domain": [0, 100], "nice": false, "zero": false}, "axis": null},
       "x2": {"field": "x1"},
       "y": {"field": "y0", "type": "quantitative", "scale": {"domain": [0, 100], "reverse": true, "nice": false, "zero": false}, "axis": null},
       "y2": {"field": "y1"},
       "color": {"field": "cl", "type": "nominal", "scale": {"domain": ["c1","c2","c3","c4","c5"], "range": ["#D71238","#1FADA8","#EA5B47","#5364AF","#3EAB69"]}, "legend": null}
      }},
     {"mark": {"type": "text", "lineBreak": "\n", "align": "center", "baseline": "middle", "font": "DejaVu Sans", "fontSize": 16, "lineHeight": 20.5, "color": "white"},
      "encoding": {
       "x": {"field": "lx", "type": "quantitative"},
       "y": {"field": "ly", "type": "quantitative"},
       "text": {"field": "label"},
       "angle": {"condition": {"test": "indexof(['NAD metabolic process','small GTPase binding','mitotic spindle organization','4 iron, 4 sulfur cluster binding'], datum.label) >= 0", "value": 90}, "value": 0}
      }}
    ]
   },
   {
    "width": 368, "height": 245.3,
    "title": {"text": "Cellular Component", "font": "DejaVu Sans", "fontSize": 16, "fontWeight": "normal", "color": "#262626", "anchor": "middle", "frame": "group", "dx": 3, "offset": 5.3},
    "data": {"name": "vcc"},
    "layer": [
     {"mark": {"type": "rect", "stroke": "white", "strokeWidth": 1.2},
      "encoding": {
       "x": {"field": "x0", "type": "quantitative", "scale": {"domain": [0, 100], "nice": false, "zero": false}, "axis": null},
       "x2": {"field": "x1"},
       "y": {"field": "y0", "type": "quantitative", "scale": {"domain": [0, 100], "reverse": true, "nice": false, "zero": false}, "axis": null},
       "y2": {"field": "y1"},
       "color": {"field": "cl", "type": "nominal", "scale": {"domain": ["c1","c2","c3","c4","c5"], "range": ["#D71238","#1FADA8","#EA5B47","#5364AF","#3EAB69"]}, "legend": null}
      }},
     {"mark": {"type": "text", "lineBreak": "\n", "align": "center", "baseline": "middle", "font": "DejaVu Sans", "fontSize": 16, "lineHeight": 20.5, "color": "white"},
      "encoding": {
       "x": {"field": "lx", "type": "quantitative"},
       "y": {"field": "ly", "type": "quantitative"},
       "text": {"field": "label"}
      }}
    ]
   }
   ]
  },
  {
   "width": 368, "height": 238.3,
   "title": {"text": "Molecular Function", "font": "DejaVu Sans", "fontSize": 16, "fontWeight": "normal", "color": "#262626", "anchor": "middle", "frame": "group", "dx": -3.3, "offset": 4.3},
   "data": {"name": "vmf"},
   "layer": [
    {"mark": {"type": "rect", "stroke": "white", "strokeWidth": 1.2},
     "encoding": {
      "x": {"field": "x0", "type": "quantitative", "scale": {"domain": [0, 100], "nice": false, "zero": false}, "axis": null},
      "x2": {"field": "x1"},
      "y": {"field": "y0", "type": "quantitative", "scale": {"domain": [0, 100], "reverse": true, "nice": false, "zero": false}, "axis": null},
      "y2": {"field": "y1"},
      "color": {"field": "cl", "type": "nominal", "scale": {"domain": ["c1","c2","c3","c4","c5"], "range": ["#D71238","#1FADA8","#EA5B47","#5364AF","#3EAB69"]}, "legend": null}
     }},
    {"mark": {"type": "text", "lineBreak": "\n", "align": "center", "baseline": "middle", "font": "DejaVu Sans", "fontSize": 16, "lineHeight": 20.3, "color": "white"},
     "encoding": {
      "x": {"field": "lx", "type": "quantitative"},
      "y": {"field": "ly", "type": "quantitative"},
      "text": {"field": "label"},
      "angle": {"condition": {"test": "indexof(['NAD metabolic process','small GTPase binding','mitotic spindle organization','4 iron, 4 sulfur cluster binding'], datum.label) >= 0", "value": 90}, "value": 0}
     }}
   ]
  }
  ]
  }
  ]
 }
 ]
},
{
 "spacing": 28.2,
 "resolve": {"scale": {"x": "independent", "y": "independent", "color": "independent"}},
 "hconcat": [
 {
  "title": {"text": "(b)", "font": "Liberation Sans", "fontSize": 19, "fontWeight": "bold", "color": "#1A1A1A", "anchor": "start", "frame": "group", "dx": 11, "dy": 24, "offset": 0},
  "vconcat": [
  {
   "title": {"text": "Volcano plot of DEGs", "font": "DejaVu Sans", "fontSize": 26.8, "fontWeight": "normal", "color": "#1A1A1A", "anchor": "start", "frame": "group", "dx": 72.5, "offset": 19.1},
   "vconcat": [
   {
    "width": 489, "height": 716,
    "view": {"stroke": "#333333", "strokeWidth": 1.3},
    "layer": [
     {"data": {"values": [{"x":-15},{"x":-10},{"x":-5},{"x":0},{"x":5},{"x":10},{"x":15}]},
      "mark": {"type": "rule", "color": "#EBEBEB", "strokeWidth": 1},
      "encoding": {"x": {"field": "x", "type": "quantitative", "title": "log2 fold change", "scale": {"domain": [-16.7, 16.9], "nice": false, "zero": false}}}},
     {"data": {"values": [{"y":0},{"y":1.25},{"y":2.5},{"y":3.75},{"y":5},{"y":6.25},{"y":7.5},{"y":8.75}]},
      "mark": {"type": "rule", "color": "#EBEBEB", "strokeWidth": 1},
      "encoding": {"y": {"field": "y", "type": "quantitative", "title": "_log10 FDR", "scale": {"domain": [-0.42, 8.965], "nice": false, "zero": false}}}},
     {"data": {"name": "red"},
      "mark": {"type": "circle", "size": 56, "opacity": 1, "fill": "#F8766D", "fillOpacity": 0.52, "stroke": "#F8766D", "strokeOpacity": 0.5, "strokeWidth": 1},
      "encoding": {
       "x": {"field": "x", "type": "quantitative", "title": "log2 fold change",
             "axis": {"values": [-10, 0, 10], "grid": false, "domain": false, "tickSize": 4.5, "tickOffset": 4.5, "tickColor": "#333333", "tickWidth": 1.1, "labelFont": "Liberation Sans", "labelFontSize": 15, "labelColor": "#4D4D4D", "labelPadding": 10.2, "titleFont": "Liberation Sans", "titleFontSize": 18.6, "titleFontWeight": "normal", "titleColor": "#000000", "titlePadding": 10}},
       "y": {"field": "y", "type": "quantitative", "title": "_log10 FDR",
             "axis": {"values": [0, 2.5, 5, 7.5], "format": ".1f", "grid": false, "domain": false, "tickSize": 4.5, "tickColor": "#333333", "tickWidth": 1.1, "labelFont": "Liberation Sans", "labelFontSize": 15, "labelColor": "#4D4D4D", "labelPadding": 2.7, "titleFont": "Liberation Sans", "titleFontSize": 18.6, "titleFontWeight": "normal", "titleColor": "#000000", "titlePadding": 11.5}}
      }},
     {"data": {"name": "blue"},
      "mark": {"type": "circle", "size": 58, "opacity": 1, "fill": "#00BFC4", "fillOpacity": 0.42, "stroke": "#00BFC4", "strokeOpacity": 0.5, "strokeWidth": 1},
      "encoding": {
       "x": {"field": "x", "type": "quantitative", "title": "log2 fold change"},
       "y": {"field": "y", "type": "quantitative", "title": "_log10 FDR"}
      }},
     {"data": {"values": [{"x":-1},{"x":1}]},
      "mark": {"type": "rule", "color": "#111111", "strokeWidth": 1.6},
      "encoding": {"x": {"field": "x", "type": "quantitative", "title": "log2 fold change"}}},
     {"data": {"values": [{"y":1.30103}]},
      "mark": {"type": "rule", "color": "#111111", "strokeWidth": 1.6},
      "encoding": {"y": {"field": "y", "type": "quantitative", "title": "_log10 FDR"}}}
    ]
   }
   ]
  }
  ]
 },
 {
  "title": {"text": "(c)", "font": "Liberation Sans", "fontSize": 19, "fontWeight": "bold", "color": "#1A1A1A", "anchor": "start", "frame": "group", "dx": 105.5, "dy": 24, "offset": 0},
  "vconcat": [
  {
   "title": {"text": "Liver", "font": "DejaVu Sans", "fontSize": 26, "fontWeight": "normal", "color": "#1A1A1A", "anchor": "start", "frame": "group", "dx": 162.9, "offset": 19.7},
   "spacing": -0.9,
   "resolve": {"scale": {"x": "independent", "y": "independent", "color": "independent"}},
   "vconcat": [
   {"width": 367, "height": 1, "data": {"values": []}, "mark": {"type": "point"}, "encoding": {}},
   {
   "spacing": 17.9,
   "resolve": {"scale": {"x": "independent", "y": "independent", "color": "independent"}},
   "vconcat": [
   {
    "spacing": 11.7,
    "resolve": {"scale": {"x": "independent", "y": "independent", "color": "independent"}},
    "vconcat": [
    {
     "width": 367, "height": 244,
     "title": {"text": "Biological Process", "font": "DejaVu Sans", "fontSize": 16, "fontWeight": "normal", "color": "#262626", "anchor": "middle", "frame": "group", "dx": -4.5, "offset": 4.9},
     "data": {"name": "lbp"},
     "layer": [
      {"mark": {"type": "rect", "stroke": "white", "strokeWidth": 1.2},
       "encoding": {
        "x": {"field": "x0", "type": "quantitative", "scale": {"domain": [0, 100], "nice": false, "zero": false}, "axis": null},
        "x2": {"field": "x1"},
        "y": {"field": "y0", "type": "quantitative", "scale": {"domain": [0, 100], "reverse": true, "nice": false, "zero": false}, "axis": null},
        "y2": {"field": "y1"},
        "color": {"field": "cl", "type": "nominal", "scale": {"domain": ["c1","c2","c3","c4","c5"], "range": ["#D71238","#1FADA8","#EA5B47","#5364AF","#3EAB69"]}, "legend": null}
       }},
      {"mark": {"type": "text", "lineBreak": "\n", "align": "center", "baseline": "middle", "font": "DejaVu Sans", "fontSize": 16, "lineHeight": 20.7, "color": "white"},
       "encoding": {
        "x": {"field": "lx", "type": "quantitative"},
        "y": {"field": "ly", "type": "quantitative"},
        "text": {"field": "label"},
        "angle": {"condition": {"test": "indexof(['NAD metabolic process','small GTPase binding','mitotic spindle organization','4 iron, 4 sulfur cluster binding'], datum.label) >= 0", "value": 90}, "value": 0}
       }}
     ]
    },
    {
     "width": 367, "height": 243.1,
     "title": {"text": "Cellular Component", "font": "DejaVu Sans", "fontSize": 16, "fontWeight": "normal", "color": "#262626", "anchor": "middle", "frame": "group", "dx": 10.2, "offset": 7.1},
     "data": {"name": "lcc"},
     "layer": [
      {"mark": {"type": "rect", "stroke": "white", "strokeWidth": 1.2},
       "encoding": {
        "x": {"field": "x0", "type": "quantitative", "scale": {"domain": [0, 100], "nice": false, "zero": false}, "axis": null},
        "x2": {"field": "x1"},
        "y": {"field": "y0", "type": "quantitative", "scale": {"domain": [0, 100], "reverse": true, "nice": false, "zero": false}, "axis": null},
        "y2": {"field": "y1"},
        "color": {"field": "cl", "type": "nominal", "scale": {"domain": ["c1","c2","c3","c4","c5"], "range": ["#D71238","#1FADA8","#EA5B47","#5364AF","#3EAB69"]}, "legend": null}
       }},
      {"mark": {"type": "text", "lineBreak": "\n", "align": "center", "baseline": "middle", "font": "DejaVu Sans", "fontSize": 16, "lineHeight": 20.3, "color": "white"},
       "encoding": {
        "x": {"field": "lx", "type": "quantitative"},
        "y": {"field": "ly", "type": "quantitative"},
        "text": {"field": "label"}
       }}
     ]
    }
    ]
   },
   {
    "width": 367, "height": 238.5,
    "title": {"text": "Molecular Function", "font": "DejaVu Sans", "fontSize": 16, "fontWeight": "normal", "color": "#262626", "anchor": "middle", "frame": "group", "dx": 11.9, "offset": 3.5},
    "data": {"name": "lmf"},
    "layer": [
     {"mark": {"type": "rect", "stroke": "white", "strokeWidth": 1.2},
      "encoding": {
       "x": {"field": "x0", "type": "quantitative", "scale": {"domain": [0, 100], "nice": false, "zero": false}, "axis": null},
       "x2": {"field": "x1"},
       "y": {"field": "y0", "type": "quantitative", "scale": {"domain": [0, 100], "reverse": true, "nice": false, "zero": false}, "axis": null},
       "y2": {"field": "y1"},
       "color": {"field": "cl", "type": "nominal", "scale": {"domain": ["c1","c2","c3","c4","c5"], "range": ["#D71238","#1FADA8","#EA5B47","#5364AF","#3EAB69"]}, "legend": null}
      }},
     {"transform": [{"filter": "indexof(datum.label, 'structural') < 0"}],
      "mark": {"type": "text", "lineBreak": "\n", "align": "center", "baseline": "middle", "font": "DejaVu Sans", "fontSize": 14.5, "lineHeight": 18.4, "color": "white"},
      "encoding": {
       "x": {"field": "lx", "type": "quantitative"},
       "y": {"field": "ly", "type": "quantitative"},
       "text": {"field": "label"},
       "angle": {"condition": {"test": "indexof(['NAD metabolic process','small GTPase binding','mitotic spindle organization','4 iron, 4 sulfur cluster binding'], datum.label) >= 0", "value": 90}, "value": 0}
      }},
     {"transform": [{"filter": "indexof(datum.label, 'structural') >= 0"}],
      "mark": {"type": "text", "lineBreak": "\n", "align": "center", "baseline": "middle", "font": "DejaVu Sans", "fontSize": 12.8, "lineHeight": 21, "color": "white"},
      "encoding": {
       "x": {"field": "lx", "type": "quantitative"},
       "y": {"field": "ly", "type": "quantitative"},
       "text": {"field": "label"}
      }}
    ]
   }
   ]
   }
   ]
  }
  ]
 }
 ]
}
],
"config": {"view": {"stroke": null}, "font": "DejaVu Sans"}
}
